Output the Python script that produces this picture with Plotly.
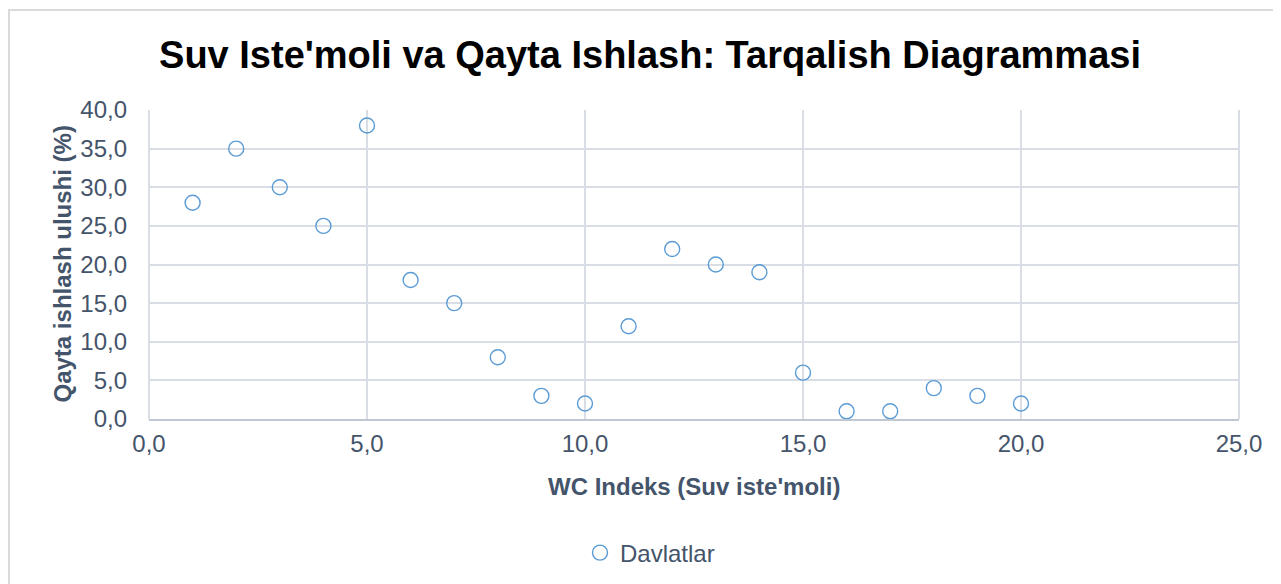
import plotly.graph_objects as go

wc_index = [1, 2, 3, 4, 5, 6, 7, 8, 9, 10, 11, 12, 13, 14, 15, 16, 17, 18, 19, 20]
recycling_share = [28, 35, 30, 25, 38, 18, 15, 8, 3, 2, 12, 22, 20, 19, 6, 1, 1, 4, 3, 2]
series_name = "Davlatlar"
title_text = "Suv Iste'moli va Qayta Ishlash: Tarqalish Diagrammasi"
x_title = "WC Indeks (Suv iste'moli)"
y_title = "Qayta ishlash ulushi (%)"

txt = "#44546A"
grid = "#D9DEE6"
FONT = "Liberation Sans, Arial, sans-serif"

PW, PH = 1090, 309  # plot area pixels

fig = go.Figure()
fig.add_trace(go.Scatter(
    x=wc_index, y=recycling_share, mode="markers", name=series_name,
    marker=dict(symbol="circle-open", size=15, color="#5B9BD5", line=dict(width=1.4, color="#5B9BD5")),
))

fig.update_layout(
    width=1281, height=584,
    paper_bgcolor="white", plot_bgcolor="white",
    margin=dict(l=141, r=50, t=102, b=173),
    separators=",.",
    font=dict(family=FONT, color=txt, size=24),
    title=dict(text="<b>" + title_text + "</b>", x=(642 - 141) / PW, xanchor="center",
               xref="paper", y=1 - 47 / 584, yanchor="middle",
               font=dict(size=38, color="black", family=FONT)),
    xaxis=dict(range=[0, 25], dtick=5, tick0=0, tickformat=".1f", showgrid=True, gridcolor=grid, gridwidth=2,
               showline=True, linecolor="#BFC7D3", linewidth=2, zeroline=False, ticks="", ticklabelstandoff=2,
               tickfont=dict(size=24, color=txt)),
    yaxis=dict(range=[0, 40], dtick=5, tick0=0, tickformat=".1f", showgrid=True, gridcolor=grid, gridwidth=2,
               showline=False, zeroline=False, ticks="", ticklabelstandoff=21,
               tickfont=dict(size=24, color=txt)),
    legend=dict(orientation="h", x=(642 - 141) / PW, xanchor="center", y=-134 / PH, yanchor="middle",
                font=dict(size=24, color=txt), itemwidth=30),
    showlegend=True,
)

# axis titles
fig.add_annotation(text="<b>" + x_title + "</b>", xref="paper", yref="paper", x=0.5, y=0,
                   yshift=-67, showarrow=False, xanchor="center", yanchor="middle",
                   font=dict(size=24, color=txt, family=FONT))
fig.add_annotation(text="<b>" + y_title + "</b>", xref="paper", yref="paper", x=0, y=0.5,
                   xshift=-87, textangle=-90, showarrow=False, xanchor="center", yanchor="middle",
                   font=dict(size=24, color=txt, family=FONT))

# plot area left & right borders (gridline style)
fig.add_shape(type="line", xref="paper", yref="paper", x0=1, x1=1, y0=0, y1=1, line=dict(color=grid, width=2))
fig.add_shape(type="line", xref="paper", yref="paper", x0=0, x1=0, y0=0, y1=1, line=dict(color=grid, width=2))
# chart outer border
fig.add_shape(type="rect", xref="paper", yref="paper",
              x0=-140 / PW, x1=1 + 90 / PW, y0=-200 / PH, y1=1 + 100 / PH,
              line=dict(color="#D9D9D9", width=2), layer="below")

fig.write_html("out.html")
